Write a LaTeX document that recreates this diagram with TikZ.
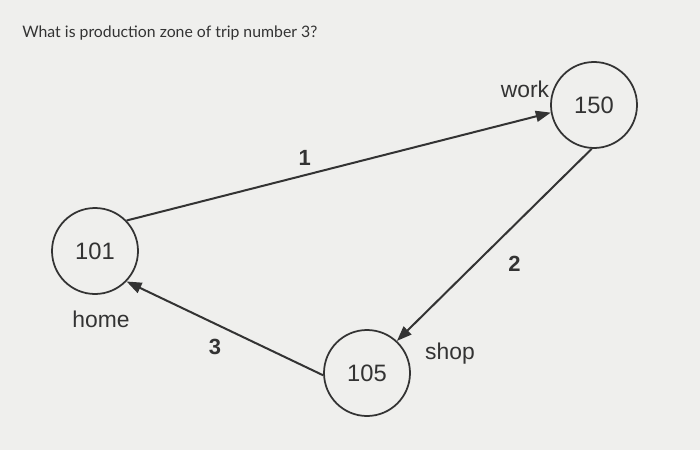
\documentclass[tikz,border=0pt]{standalone}
\usepackage{fontspec}
\setmainfont{Liberation Sans}
\newfontfamily\titlefont{Lato}
\usetikzlibrary{arrows.meta}
\definecolor{papier}{HTML}{EFEFED}
\definecolor{inkt}{HTML}{333333}

\begin{document}
\begin{tikzpicture}[
  every node/.style={font=\fontsize{13.5}{15}\selectfont, text=inkt},
  zone/.style={draw=inkt, circle, line width=0.35mm, minimum size=1.72cm, inner sep=0pt},
  trip/.style={-{Triangle[length=3mm,width=2.2mm]}, line width=0.4mm, inkt},
  nr/.style={font=\bfseries\fontsize{12.5}{14}\selectfont, inner sep=0.5mm},
  naam/.style={font=\fontsize{13}{15}\selectfont}
]
\fill[papier] (0,0) rectangle (14,9);
\useasboundingbox (0,0) rectangle (14,9);
\node[font=\titlefont\fontsize{9}{11}\selectfont, anchor=west, inner sep=0pt] (vraag) at (0.44,8.33) {What is production zone of trip number 3?};
\node[zone] (Z150) at (11.88,6.90) {150};
\node[zone] (Z101) at (1.90,3.98) {101};
\node[zone] (Z105) at (7.34,1.54) {105};
\node[naam] (work) at (10.50,7.22) {work};
\node[naam] (home) at (2.02,2.62) {home};
\node[naam] (shop) at (9.00,1.92) {shop};
\draw[trip] (Z101.44) -- node[nr, pos=0.42, above=1.2mm] (t1) {1} (Z150.190);
\draw[trip] (Z150.267) -- node[nr, pos=0.6, right=6mm] (t2) {2} (Z105.47);
\draw[trip] (Z105.183) -- node[nr, pos=0.55, below=2.3mm] (t3) {3} (Z101.316);
\end{tikzpicture}
\end{document}
